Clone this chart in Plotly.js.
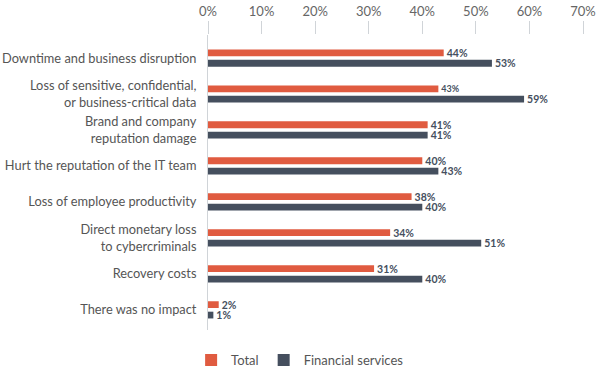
<!DOCTYPE html>
<html>
<head>
<meta charset="utf-8">
<script src="https://cdn.plot.ly/plotly-3.0.1.min.js"></script>
<style>html,body{margin:0;padding:0;background:#fff;}#chart{width:601px;height:371px;}</style>
</head>
<body>
<div id="chart"></div>
<script>
const categories = [
  "Downtime and business disruption",
  "Loss of sensitive, confidential,<br>or business-critical data",
  "Brand and company<br>reputation damage",
  "Hurt the reputation of the IT team",
  "Loss of employee productivity",
  "Direct monetary loss<br>to cybercriminals",
  "Recovery costs",
  "There was no impact"
];
const totalValues = [44, 43, 41, 40, 38, 34, 31, 2];
const financialValues = [53, 59, 41, 43, 40, 51, 40, 1];
const tickValues = [0, 10, 20, 30, 40, 50, 60, 70];
const tickLabels = ["0%", "10%", "20%", "30%", "40%", "50%", "60%", "70%"];

const FONT = "Lato, 'Open Sans', sans-serif";
const yIdx = categories.map((c, i) => i);

const traces = [
  {
    type: "bar", orientation: "h", name: "Total",
    y: yIdx, x: totalValues,
    marker: { color: "#e05b40" },
    text: totalValues.map(v => v + "%"),
    textposition: "outside",
    constraintext: "none",
    textfont: { family: FONT, size: totalValues.map((v, i) => i === 1 ? 9 : 10.5), color: "#454f5e", weight: 700 },
    cliponaxis: false,
    hoverinfo: "x+name"
  },
  {
    type: "bar", orientation: "h", name: "Financial services",
    y: yIdx, x: financialValues,
    marker: { color: "#454f5e" },
    text: financialValues.map(v => v + "%"),
    textposition: "outside",
    constraintext: "none",
    textfont: { family: FONT, size: 10.5, color: "#454f5e", weight: 700 },
    cliponaxis: false,
    hoverinfo: "x+name"
  }
];

const layout = {
  width: 601, height: 371,
  margin: { l: 208, r: 18, t: 35, b: 41, autoexpand: false },
  paper_bgcolor: "#fff", plot_bgcolor: "#fff",
  font: { family: FONT, size: 13, color: "#555" },
  barmode: "group",
  bargap: 0.42,
  bargroupgap: 0.35,
  showlegend: true,
  legend: {
    orientation: "h", xref: "container", yref: "container",
    x: 0.318, xanchor: "left", y: 0.07, yanchor: "top",
    font: { family: FONT, size: 13, color: "#555" },
    traceorder: "normal"
  },
  xaxis: {
    side: "top", range: [0, 70], tickvals: tickValues, ticktext: tickLabels,
    showgrid: false, zeroline: false, showline: false,
    ticks: "outside", ticklen: 13, tickcolor: "#d0d4d8", tickwidth: 1,
    tickfont: { family: FONT, size: 13, color: "#666" }, fixedrange: true
  },
  yaxis: {
    tickmode: "array", tickvals: yIdx, ticktext: categories,
    range: [7.56, -0.64],
    showgrid: false, zeroline: false, showline: true, linecolor: "#d0d4d8", linewidth: 1,
    ticks: "", ticklabelstandoff: 8,
    tickfont: { family: FONT, size: 12.8, color: "#555" }, fixedrange: true
  }
};

Plotly.newPlot("chart", traces, layout, { displayModeBar: false, staticPlot: true });
</script>
</body>
</html>
